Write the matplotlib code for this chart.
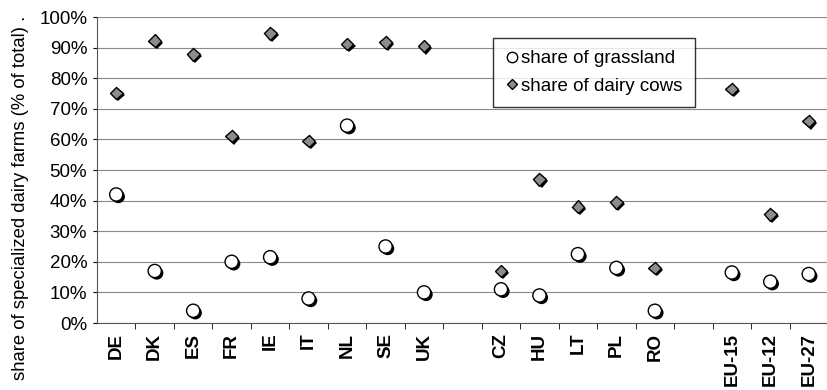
import numpy as np
import matplotlib.pyplot as plt
import matplotlib.patheffects as pe

plt.rcParams['font.family'] = ['Liberation Sans', 'DejaVu Sans']

countries = ['DE', 'DK', 'ES', 'FR', 'IE', 'IT', 'NL', 'SE', 'UK',
             'CZ', 'HU', 'LT', 'PL', 'RO',
             'EU-15', 'EU-12', 'EU-27']
positions = [0, 1, 2, 3, 4, 5, 6, 7, 8,
             10, 11, 12, 13, 14,
             16, 17, 18]
grassland = [42, 17, 4, 20, 21.5, 8, 64.5, 25, 10,
             11, 9, 22.5, 18, 4,
             16.5, 13.5, 16]
dairy_cows = [75.2, 92.2, 87.8, 61.1, 94.7, 59.5, 91.2, 91.7, 90.5,
              17, 47, 38, 39.5, 18,
              76.5, 35.5, 66]

fig = plt.figure(figsize=(8.28, 3.9), dpi=100)
ax = fig.add_axes([97 / 828, 1 - 323 / 390, 731 / 828, 306 / 390])

shadow = [pe.SimplePatchShadow(offset=(1.5, -1.5), shadow_rgbFace='black', alpha=1.0), pe.Normal()]

ax.plot(positions, grassland, linestyle='none', marker='o', markersize=9.5,
        markerfacecolor='white', markeredgecolor='black', markeredgewidth=1.0,
        zorder=3, path_effects=shadow)
ax.plot(positions, dairy_cows, linestyle='none', marker='D', markersize=6.5,
        markerfacecolor='#8c8c8c', markeredgecolor='black', markeredgewidth=1.0,
        zorder=3, path_effects=shadow)

# legend handles without the drop shadow, like the original
h1, = ax.plot([], [], linestyle='none', marker='o', markersize=7.5,
              markerfacecolor='white', markeredgecolor='black', markeredgewidth=1.0)
h2, = ax.plot([], [], linestyle='none', marker='D', markersize=5.5,
              markerfacecolor='#8c8c8c', markeredgecolor='black', markeredgewidth=1.0)

ax.set_ylim(0, 100)
ax.set_xlim(-0.5, -0.5 + 731 / 38.8)
ax.set_yticks(np.arange(0, 101, 10))
ax.set_yticklabels([f'{v}%' for v in range(0, 101, 10)], fontsize=13.5)
ax.yaxis.grid(True, color='#8a8a8a', linewidth=0.8)
ax.set_axisbelow(True)

ax.set_xticks(positions)
ax.set_xticklabels(countries, rotation=90, fontsize=13.5, fontweight='bold')
ax.set_xticks(np.arange(0.5, 19, 1), minor=True)
ax.tick_params(axis='x', which='major', length=0, pad=7)
ax.tick_params(axis='x', which='minor', length=4, direction='out')
ax.tick_params(axis='y', length=3, direction='out', pad=4)

for s in ['top', 'right']:
    ax.spines[s].set_visible(False)
ax.spines['left'].set_color('#555555')
ax.spines['bottom'].set_color('#555555')

ax.set_ylabel('share of specialized dairy farms (% of total) .', fontsize=13.3)
ax.yaxis.set_label_coords(-(97 - 29) / 731, 0.41)

leg = ax.legend([h1, h2], ['share of grassland', 'share of dairy cows'],
                loc='upper left', bbox_to_anchor=((493 - 97) / 731, 1 - (38 - 17) / 306),
                frameon=True, fancybox=False, edgecolor='black', fontsize=13.5,
                handletextpad=0.15, handlelength=0.7, borderpad=0.65, labelspacing=0.55,
                borderaxespad=0)
leg.get_frame().set_linewidth(1.0)

fig.savefig('out.png', dpi=100)
